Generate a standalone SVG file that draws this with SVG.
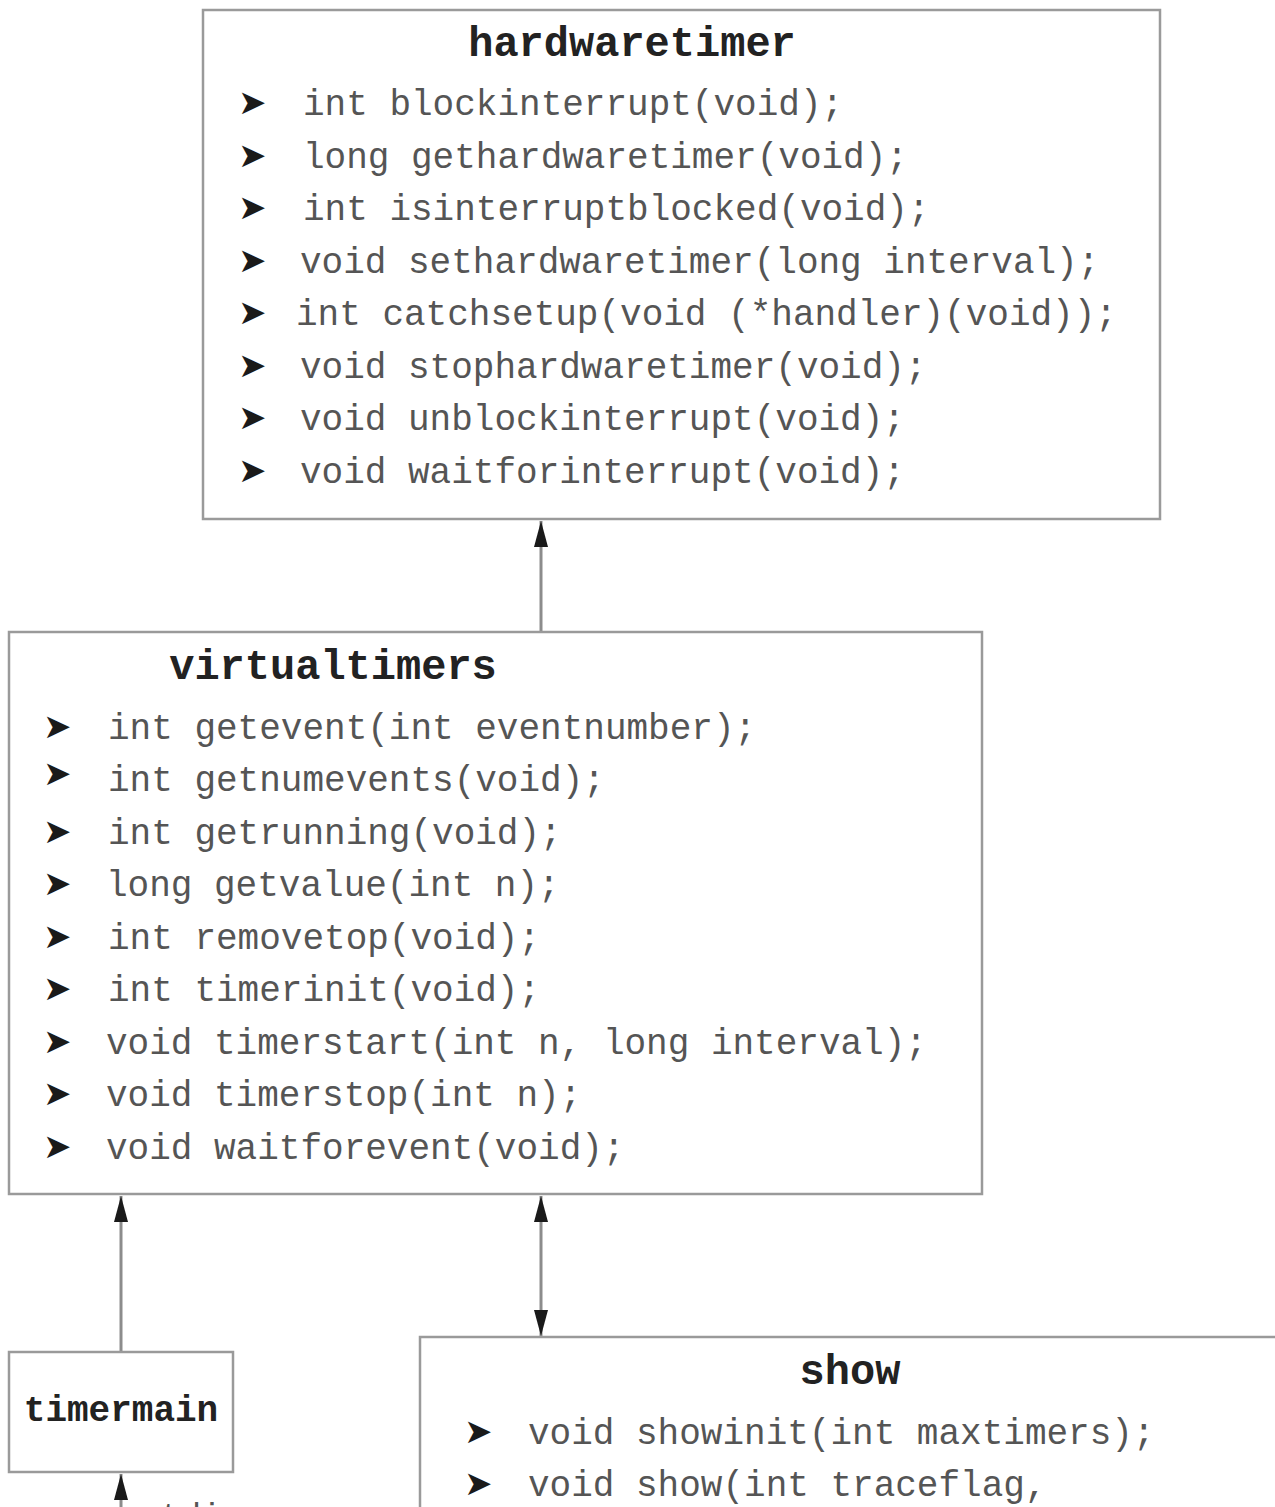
<svg xmlns="http://www.w3.org/2000/svg" width="1275" height="1507" viewBox="0 0 1275 1507">
<style>
.box{fill:#fff;stroke:#9a9a9a;stroke-width:2.5}
.title{font-family:"Liberation Mono","Courier New",monospace;font-weight:bold;font-size:42px;fill:#222;text-anchor:middle}
.item{font-family:"Liberation Mono","Courier New",monospace;font-size:36px;fill:#555}
.bul{font-family:"DejaVu Sans",sans-serif;font-size:34px;fill:#1a1a1a}
.conn{stroke:#8c8c8c;stroke-width:3;fill:none}
</style>
<defs>
<marker id="arr" markerUnits="userSpaceOnUse" markerWidth="30" markerHeight="20" viewBox="0 0 30 20" refX="28" refY="8" orient="auto-start-reverse">
<path d="M2,1 L28,8 L2,15 Z" fill="#1a1a1a"/>
</marker>
</defs>
<rect width="1275" height="1507" fill="#fff"/>

<g id="connectors">
<line class="conn" x1="541" y1="632" x2="541" y2="521" marker-end="url(#arr)"/>
<line class="conn" x1="121" y1="1352" x2="121" y2="1196" marker-end="url(#arr)"/>
<line class="conn" x1="541" y1="1196" x2="541" y2="1336" marker-start="url(#arr)" marker-end="url(#arr)"/>
<line class="conn" x1="121" y1="1530" x2="121" y2="1474" marker-end="url(#arr)"/>
</g>

<g id="hardwaretimer">
<rect class="box" x="203" y="10" width="957" height="509"/>
<text class="title" x="632" y="56">hardwaretimer</text>
<text class="bul" x="238" y="114">➤</text><text class="item" x="303" y="115">int blockinterrupt(void);</text>
<text class="bul" x="238" y="167">➤</text><text class="item" x="303" y="168">long gethardwaretimer(void);</text>
<text class="bul" x="238" y="219">➤</text><text class="item" x="303" y="220">int isinterruptblocked(void);</text>
<text class="bul" x="238" y="272">➤</text><text class="item" x="300" y="273">void sethardwaretimer(long interval);</text>
<text class="bul" x="238" y="324">➤</text><text class="item" x="296" y="325">int catchsetup(void (*handler)(void));</text>
<text class="bul" x="238" y="377">➤</text><text class="item" x="300" y="378">void stophardwaretimer(void);</text>
<text class="bul" x="238" y="429">➤</text><text class="item" x="300" y="430">void unblockinterrupt(void);</text>
<text class="bul" x="238" y="482">➤</text><text class="item" x="300" y="483">void waitforinterrupt(void);</text>
</g>

<g id="virtualtimers">
<rect class="box" x="9" y="632" width="973" height="562"/>
<text class="title" x="333" y="679">virtualtimers</text>
<text class="bul" x="43" y="738">➤</text><text class="item" x="108" y="739">int getevent(int eventnumber);</text>
<text class="bul" x="43" y="785">➤</text><text class="item" x="108" y="791">int getnumevents(void);</text>
<text class="bul" x="43" y="843">➤</text><text class="item" x="108" y="844">int getrunning(void);</text>
<text class="bul" x="43" y="895">➤</text><text class="item" x="106" y="896">long getvalue(int n);</text>
<text class="bul" x="43" y="948">➤</text><text class="item" x="108" y="949">int removetop(void);</text>
<text class="bul" x="43" y="1000">➤</text><text class="item" x="108" y="1001">int timerinit(void);</text>
<text class="bul" x="43" y="1053">➤</text><text class="item" x="106" y="1054">void timerstart(int n, long interval);</text>
<text class="bul" x="43" y="1105">➤</text><text class="item" x="106" y="1106">void timerstop(int n);</text>
<text class="bul" x="43" y="1158">➤</text><text class="item" x="106" y="1159">void waitforevent(void);</text>
</g>

<g id="timermain">
<rect class="box" x="9" y="1352" width="224" height="120"/>
<text class="title" x="121" y="1421" style="font-size:36px">timermain</text>
</g>

<g id="show">
<rect class="box" x="420" y="1337" width="870" height="200"/>
<text class="title" x="850" y="1384">show</text>
<text class="bul" x="464" y="1443">➤</text><text class="item" x="528" y="1444">void showinit(int maxtimers);</text>
<text class="bul" x="464" y="1495">➤</text><text class="item" x="528" y="1496">void show(int traceflag,</text>
</g>

<text class="item" x="140" y="1526" style="font-size:34px">stdin</text>
</svg>
